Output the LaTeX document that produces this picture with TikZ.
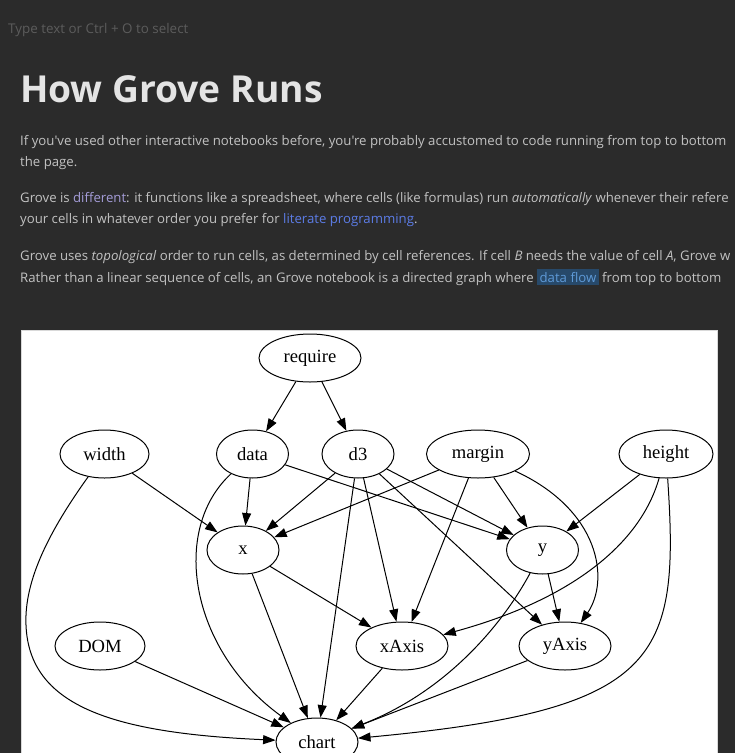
\documentclass[tikz,border=0pt]{standalone}
\usepackage{fontspec}
\setmainfont{Liberation Serif}
\newfontfamily\uifont{Open Sans}
\usetikzlibrary{positioning,shapes.geometric,arrows.meta}
\definecolor{pagebg}{HTML}{2B2B2B}
\definecolor{hinttext}{HTML}{5C5C5C}
\definecolor{headtext}{HTML}{E4E4E4}
\definecolor{bodytext}{HTML}{C2C2C2}
\definecolor{difftint}{HTML}{A49CD8}
\definecolor{linkblue}{HTML}{5C7CE6}
\definecolor{flowbox}{HTML}{27496A}
\definecolor{flowtext}{HTML}{5E9AD8}

\begin{document}
\begin{tikzpicture}[
      x=1pt, y=1pt,
      every node/.style={inner sep=0pt},
      hint/.style={font=\uifont\fontsize{13.4}{16}\selectfont, text=hinttext, anchor=base west},
      heading/.style={font=\uifont\bfseries\fontsize{37.2}{44}\selectfont, text=headtext, anchor=base west},
      body/.style={font=\uifont\fontsize{13.2}{16}\selectfont, text=bodytext, anchor=base west},
      cell/.style={draw, ellipse, line width=1pt, minimum width=72pt,
                   minimum height=48pt, font=\fontsize{18.6}{22}\selectfont},
      dep/.style={-{Triangle[length=12.5pt, width=9pt]}, line width=1pt},
  ]
    \useasboundingbox (0,0) rectangle (735,-753);
    \clip (0,0) rectangle (735,-753);
    \fill[pagebg] (0,0) rectangle (735,-753);

    %% --- Page text ---
    \node[hint] (hintline) at (8,-33) {Type text or Ctrl + O to select};
    \node[heading] (title) at (20,-102) {How Grove Runs};
    \node[body] (p1a) at (20,-145) {If you've used other interactive notebooks before, you're probably accustomed to code running from top to bottom};
    \node[body] (p1b) at (20,-166) {the page.};
    \node[body] (p2a) at (20,-202) {Grove is \textcolor{difftint}{different}: it functions like a spreadsheet, where cells (like formulas) run \textit{automatically} whenever their refere};
    \node[body] (p2b) at (20,-223) {your cells in whatever order you prefer for \textcolor{linkblue}{literate programming}.};
    \node[body] (p3a) at (20,-260) {Grove uses \textit{topological} order to run cells, as determined by cell references. If cell \textit{B} needs the value of cell \textit{A}, Grove w};
    \node[body] (p3b) at (20,-282) {Rather than a linear sequence of cells, an Grove notebook is a directed graph where {\setlength{\fboxsep}{2.5pt}\colorbox{flowbox}{\textcolor{flowtext}{data flow}}} from top to bottom};

    %% --- Graph panel ---
    \fill[white, draw=black!15] (21,-330) rectangle (717,-760);

    %% --- Cells ---
    \node[cell, minimum width=102pt] (req) at (310,-358) {require};
    \node[cell, minimum width=89pt] (wid) at (104.5,-454) {width};
    \node[cell] (dat) at (252.5,-454) {data};
    \node[cell] (dthree) at (358,-454) {d3};
    \node[cell, minimum width=103pt] (mar) at (478,-454) {margin};
    \node[cell, minimum width=94pt] (hei) at (666,-454) {height};
    \node[cell] (xv) at (243,-550) {x};
    \node[cell] (yv) at (542.5,-550) {y};
    \node[cell, minimum width=90pt] (dom) at (100,-646) {DOM};
    \node[cell, minimum width=92pt] (xax) at (402,-646) {xAxis};
    \node[cell, minimum width=92pt] (yax) at (565,-646) {yAxis};
    \node[cell, minimum width=82pt] (chart) at (317,-742) {chart};

    %% --- References ---
    \draw[dep] (req) -- (dat);
    \draw[dep] (req) -- (dthree);
    \draw[dep] (wid) -- (xv);
    \draw[dep] (dat) -- (xv);
    \draw[dep] (dat) -- (yv);
    \draw[dep] (dthree) -- (xv);
    \draw[dep] (dthree) -- (yv);
    \draw[dep] (dthree) -- (xax);
    \draw[dep] (dthree) -- (yax);
    \draw[dep] (dthree) -- (chart);
    \draw[dep] (mar) -- (xv);
    \draw[dep] (mar) -- (yv);
    \draw[dep] (mar) -- (xax);
    \draw[dep] (hei) -- (yv);
    \draw[dep] (xv) -- (xax);
    \draw[dep] (xv) -- (chart);
    \draw[dep] (yv) -- (yax);
    \draw[dep] (xax) -- (chart);
    \draw[dep] (yax) -- (chart);
    \draw[dep] (dom) -- (chart);

    %% --- Curved references ---
    \draw[dep] (wid) .. controls (50,-530) and (24,-580) .. (26,-625)
                     .. controls (29,-705) and (110,-733) .. (chart);
    \draw[dep] (dat) .. controls (170,-530) and (190,-650) .. (chart);
    \draw[dep] (mar) .. controls (600,-510) and (610,-580) .. (yax);
    \draw[dep] (hei) .. controls (640,-545) and (570,-600) .. (xax);
    \draw[dep] (hei) .. controls (680,-660) and (660,-710) .. (chart);
    \draw[dep] (yv) .. controls (505,-620) and (450,-690) .. (chart);
  \end{tikzpicture}
\end{document}
